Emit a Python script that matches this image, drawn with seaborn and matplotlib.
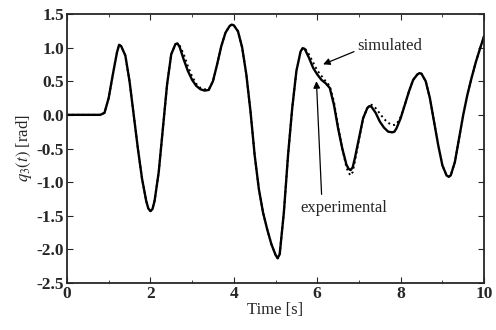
import matplotlib
matplotlib.use("Agg")
import matplotlib.pyplot as plt
import numpy as np
import pandas as pd
import seaborn as sns

# time axis [s]: 0.1 s steps plus a few extra samples at the turning points
time = [
    0.0, 0.1, 0.2, 0.3, 0.4, 0.5, 0.6, 0.7, 0.8, 0.9,
    1.0, 1.1, 1.2, 1.25, 1.3, 1.4, 1.5, 1.6, 1.7, 1.8, 1.9,
    1.95, 2.0, 2.05, 2.1, 2.2, 2.3, 2.4, 2.5, 2.6, 2.65, 2.7, 2.8, 2.9,
    3.0, 3.1, 3.2, 3.3, 3.4, 3.5, 3.6, 3.7, 3.8, 3.9, 3.95,
    4.0, 4.1, 4.2, 4.3, 4.4, 4.5, 4.6, 4.7, 4.8, 4.9,
    5.0, 5.05, 5.1, 5.2, 5.3, 5.4, 5.5, 5.6, 5.65, 5.7, 5.8, 5.9,
    6.0, 6.1, 6.2, 6.3, 6.4, 6.5, 6.6, 6.7, 6.75, 6.8, 6.85, 6.9,
    7.0, 7.1, 7.2, 7.25, 7.3, 7.4, 7.5, 7.6, 7.7, 7.8, 7.85, 7.9,
    8.0, 8.1, 8.2, 8.3, 8.4, 8.45, 8.5, 8.6, 8.7, 8.8, 8.9,
    9.0, 9.1, 9.15, 9.2, 9.3, 9.4, 9.5, 9.6, 9.7, 9.8, 9.9, 10.0,
]

# q3(t), experimental run
experimental = [
    0.0, 0.0, 0.0, 0.0, 0.0, 0.0, 0.0, 0.0, 0.0, 0.03,
    0.25, 0.6, 0.93, 1.04, 1.02, 0.88, 0.5, 0.0, -0.5, -0.95, -1.28,
    -1.39, -1.43, -1.4, -1.28, -0.85, -0.2, 0.45, 0.9, 1.05, 1.06, 1.01, 0.82, 0.65,
    0.52, 0.43, 0.38, 0.36, 0.37, 0.5, 0.75, 1.02, 1.22, 1.32, 1.34,
    1.33, 1.24, 1.0, 0.6, 0.05, -0.6, -1.1, -1.45, -1.7, -1.92,
    -2.08, -2.13, -2.07, -1.45, -0.6, 0.1, 0.65, 0.94, 0.99, 0.98, 0.85, 0.7,
    0.6, 0.52, 0.47, 0.4, 0.15, -0.2, -0.5, -0.74, -0.8, -0.82, -0.78, -0.65,
    -0.35, -0.05, 0.1, 0.13, 0.12, 0.03, -0.1, -0.19, -0.25, -0.26, -0.25, -0.2,
    -0.05, 0.15, 0.35, 0.52, 0.6, 0.62, 0.61, 0.5, 0.25, -0.1, -0.45,
    -0.75, -0.9, -0.92, -0.9, -0.7, -0.35, 0.0, 0.3, 0.55, 0.78, 0.98, 1.17,
]

# simulated response
simulated = [
    0.0, 0.0, 0.0, 0.0, 0.0, 0.0, 0.0, 0.0, 0.0, 0.03,
    0.25, 0.6, 0.93, 1.04, 1.02, 0.88, 0.5, 0.0, -0.5, -0.95, -1.28,
    -1.39, -1.43, -1.4, -1.28, -0.85, -0.2, 0.45, 0.9, 1.05, 1.06, 1.03, 0.9, 0.72,
    0.57, 0.46, 0.4, 0.38, 0.38, 0.5, 0.75, 1.02, 1.22, 1.32, 1.34,
    1.33, 1.24, 1.0, 0.6, 0.05, -0.6, -1.1, -1.45, -1.7, -1.92,
    -2.08, -2.13, -2.07, -1.45, -0.6, 0.1, 0.65, 0.94, 0.99, 0.99, 0.9, 0.78,
    0.66, 0.58, 0.5, 0.43, 0.2, -0.18, -0.5, -0.78, -0.86, -0.9, -0.85, -0.7,
    -0.37, -0.05, 0.1, 0.14, 0.15, 0.1, 0.02, -0.06, -0.12, -0.15, -0.15, -0.14,
    -0.03, 0.15, 0.35, 0.52, 0.6, 0.62, 0.61, 0.5, 0.25, -0.1, -0.45,
    -0.75, -0.9, -0.92, -0.9, -0.7, -0.35, 0.0, 0.3, 0.55, 0.78, 0.98, 1.17,
]

df = pd.DataFrame({"time": time, "experimental": experimental, "simulated": simulated})

sns.set_style("ticks")
plt.rcParams["font.family"] = ["Liberation Serif", "DejaVu Serif"]
plt.rcParams["mathtext.fontset"] = "stix"
plt.rcParams["lines.solid_joinstyle"] = "round"

fig = plt.figure(figsize=(4.96, 3.30), dpi=100)
ax = fig.add_axes([0.135, 0.142, 0.841, 0.816])

sns.lineplot(data=df, x="time", y="simulated", ax=ax, color="black", lw=1.4, linestyle=":")
sns.lineplot(data=df, x="time", y="experimental", ax=ax, color="black", lw=1.7)

ax.set_xlim(0, 10)
ax.set_ylim(-2.5, 1.5)
ax.set_xticks([0, 2, 4, 6, 8, 10])
ax.set_xticks([1, 3, 5, 7, 9], minor=True)
yt = np.arange(-2.5, 1.51, 0.5)
ax.set_yticks(yt)
ax.set_yticklabels([f"{v:.1f}" for v in yt])
ax.tick_params(which="both", direction="in", top=True, right=True, labelsize=12.5, pad=2)
ax.tick_params(which="major", length=4)
ax.tick_params(which="minor", length=2.5)
for lab in ax.get_xticklabels() + ax.get_yticklabels():
    lab.set_fontweight("bold")
for s in ax.spines.values():
    s.set_linewidth(1.3)

ax.set_xlabel("Time [s]", fontsize=12, labelpad=0)
ax.set_ylabel("$q_3(t)$ [rad]", fontsize=12, labelpad=2)

ax.annotate("simulated", xy=(6.14, 0.75), xytext=(6.96, 1.03), fontsize=12,
            va="center", ha="left",
            arrowprops=dict(arrowstyle="-|>", color="black", lw=0.9, mutation_scale=10,
                            shrinkA=0, shrinkB=0, relpos=(0, 0.2)))
ax.annotate("experimental", xy=(5.98, 0.5), xytext=(5.59, -1.39), fontsize=12,
            va="center", ha="left",
            arrowprops=dict(arrowstyle="-|>", color="black", lw=0.9, mutation_scale=10,
                            shrinkA=2, shrinkB=0, relpos=(0.25, 1.0)))

fig.savefig("out.png", dpi=100)
